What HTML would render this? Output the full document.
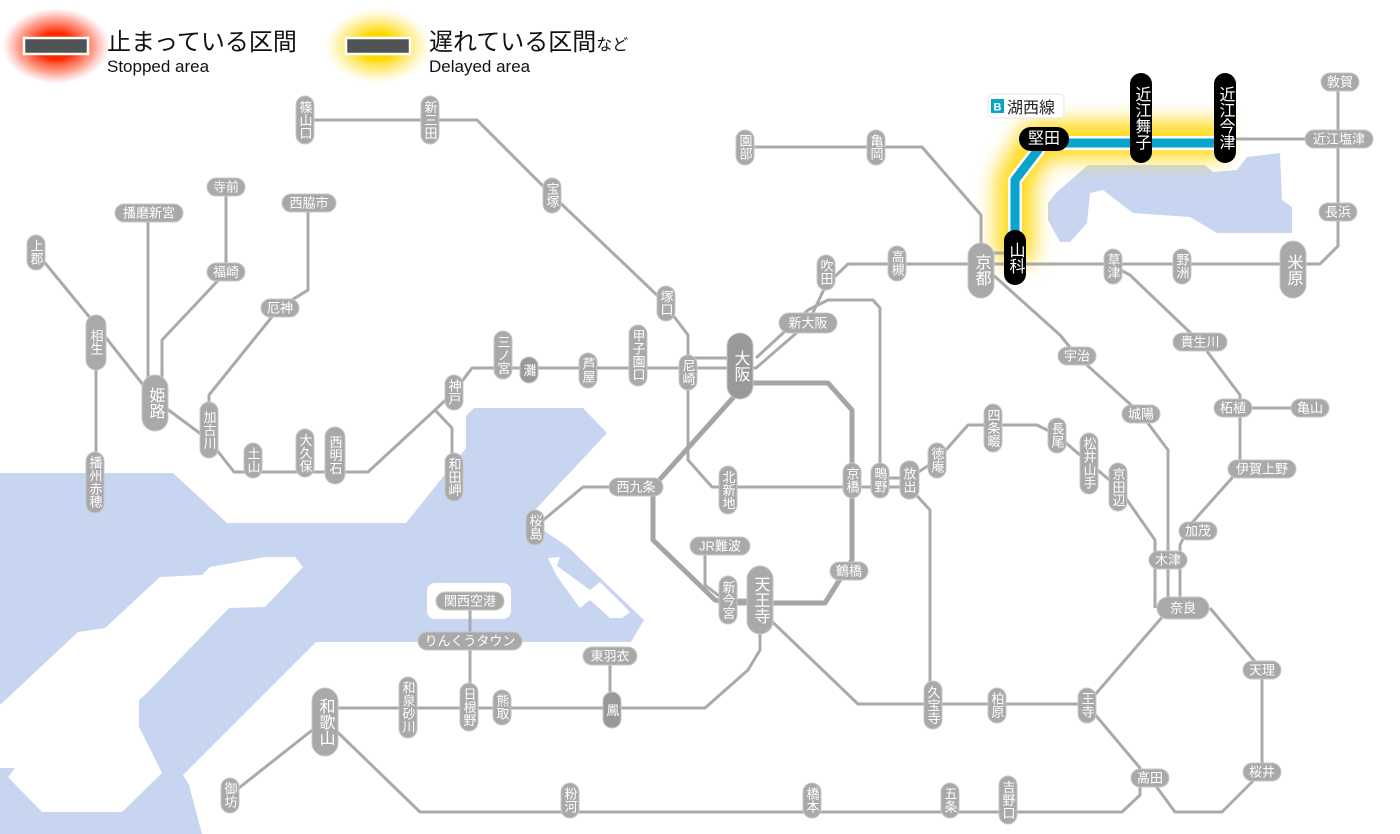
<!DOCTYPE html>
<html><head><meta charset="utf-8">
<style>
html,body{margin:0;padding:0;background:#fff;}
svg{display:block;font-family:"Liberation Sans","Noto Sans CJK JP",sans-serif;}
.ln{fill:none;stroke:#aaa;stroke-width:3;stroke-linejoin:round;}
.lk{fill:none;stroke:#a5a5a5;stroke-width:5;stroke-linejoin:round;}
.p{fill:#a9a9a9;stroke:#c8c8c8;stroke-width:1;}
.t{fill:#fff;font-size:13px;text-anchor:middle;dominant-baseline:central;}
.v{writing-mode:vertical-rl;text-orientation:upright;letter-spacing:0px;}
.b{font-size:16px;}
.k{fill:#000;}
.kt{fill:#fff;font-size:16px;text-anchor:middle;dominant-baseline:central;}
</style></head><body>
<svg width="1400" height="834" viewBox="0 0 1400 834" xmlns="http://www.w3.org/2000/svg">
<defs>
<radialGradient id="rg"><stop offset="0.35" stop-color="#ff2a00"/><stop offset="0.7" stop-color="#ff6040" stop-opacity="0.6"/><stop offset="1" stop-color="#ff8080" stop-opacity="0"/></radialGradient>
<radialGradient id="yg"><stop offset="0.35" stop-color="#ffd800"/><stop offset="0.7" stop-color="#ffe860" stop-opacity="0.6"/><stop offset="1" stop-color="#fff0a0" stop-opacity="0"/></radialGradient>
<filter id="bl" x="-30%" y="-30%" width="160%" height="160%"><feGaussianBlur stdDeviation="10"/></filter>
</defs>

<!-- legend -->
<ellipse cx="56" cy="46" rx="54" ry="38" fill="url(#rg)"/>
<rect x="24" y="38" width="64" height="16" fill="#4f5354" stroke="#fff" stroke-width="2.5"/>
<text x="107" y="50" font-size="24" fill="#111">止まっている区間</text>
<text x="107" y="72" font-size="17" fill="#111">Stopped area</text>
<ellipse cx="378" cy="46" rx="54" ry="38" fill="url(#yg)"/>
<rect x="346" y="38" width="64" height="16" fill="#4f5354" stroke="#fff" stroke-width="2.5"/>
<text x="429" y="50" font-size="24" fill="#111">遅れている区間<tspan font-size="16">など</tspan></text>
<text x="429" y="72" font-size="17" fill="#111">Delayed area</text>

<!-- water -->
<g fill="#c8d5f0">
<polygon points="0,473 173,473 227,523 406,523 466,448 466,416 474,408 583,408 607,433 535,510 543,530 568,547 644,620 631,642 316,642 183,775 189,785 202,834 0,834"/>
<polygon points="1088,165 1205,165 1213,172 1237,170 1247,157 1280,153 1282,200 1292,207 1292,233 1217,233 1190,217 1133,213 1103,190 1090,193 1087,223 1070,242 1060,242 1048,220 1048,203 1057,192"/>
</g>
<g fill="#fff">
<polygon points="265,557 295,557 303,567 265,607 229,608 147,693 139,700 139,727 162,773 122,812 42,812 8,777 15,768 0,768 0,705 78,632 105,628 160,577 202,575 210,567"/>
<rect x="427" y="583" width="84" height="36" rx="8"/>
<polygon points="548,558 560,557 557,566 590,590 600,582 630,612 622,618 610,618 590,600 580,608 556,575"/>
<polygon points="590,520 596,505 585,540 575,545"/>
</g>

<!-- yellow glow kosei -->
<path d="M1015,262 V180 L1038,140 H1225" fill="none" stroke="#ffd500" stroke-width="38" stroke-linejoin="round" filter="url(#bl)" opacity="0.9"/>

<!-- lines -->
<g class="ln">
<path d="M305,120 H477 L552,195 L660,298 L688,335 V460 L712,487 H909"/>
<path d="M454,392 L472,368 H740"/>
<path d="M688,358 H740"/>
<path d="M740,368 H756 L808,323 L826,285 L848,264 H1320 L1338,246 V82"/>
<path d="M756,358 L808,310 L828,300 H873 L880,308 V478"/>
<path d="M36,252 L96,325 L155,400 L209,440 L234,472 H368 L435,410 L454,392"/>
<path d="M435,410 L452,428 V477"/>
<path d="M96,342 V482"/>
<path d="M148,213 V400"/>
<path d="M226,187 V272 L162,340 V400"/>
<path d="M308,203 V290 L279,308 L209,395 V430"/>
<path d="M620,487 H583 L535,527"/>
<path d="M720,546 H705 V585 L728,603"/>
<path d="M760,603 V650 L748,670 L705,708 H325"/>
<path d="M470,601 V707"/>
<path d="M610,656 V710"/>
<path d="M760,610 L858,704 H1087 L1170,608"/>
<path d="M1087,705 L1140,768 V795 L1122,812 H420 L325,720"/>
<path d="M325,720 L230,795"/>
<path d="M1150,778 L1175,812 H1222 L1262,772 V670 L1210,608"/>
<path d="M909,487 L930,510 V705"/>
<path d="M909,478 L937,460 L968,425 H1037 L1057,435 L1089,463 L1118,487 L1155,540 V608"/>
<path d="M981,264 L1060,335 L1077,356 L1141,414 L1168,450 V608"/>
<path d="M1113,266 L1130,275 L1200,342 L1240,395 V469 L1190,525 L1180,545 V608"/>
<path d="M1233,408 H1310"/>
<path d="M981,245 V215 L922,147 H745"/>
<path d="M981,253 H1015"/>
<path d="M1223,139 H1339"/>
<path d="M880,487 H909"/>
<path d="M880,478 H909"/>
<path d="M715,600 H760"/>
</g>
<g class="lk">
<path d="M740,383 H828 L852,410 V560 L825,603 H728 L715,600 L653,540 V487 L740,390"/>
</g>

<!-- kosei blue line -->
<path d="M1015,262 V180 L1038,150 V143 H1225" fill="none" stroke="#fff" stroke-width="14" stroke-linejoin="round"/>
<path d="M1015,262 V180 L1038,150 V143 H1225" fill="none" stroke="#08a4cc" stroke-width="9" stroke-linejoin="round"/>

<!-- vertical small stations -->
<g>
<rect class="p" x="296" y="96" width="18" height="48" rx="9"/><text class="t v" x="305" y="120">篠山口</text>
<rect class="p" x="421" y="96" width="18" height="48" rx="9"/><text class="t v" x="430" y="120">新三田</text>
<rect class="p" x="543" y="178" width="18" height="35" rx="9"/><text class="t v" x="552" y="195">宝塚</text>
<rect class="p" x="657" y="286" width="18" height="35" rx="9"/><text class="t v" x="666" y="303">塚口</text>
<rect class="p" x="629" y="325" width="18" height="61" rx="9"/><text class="t v" x="638" y="355">甲子園口</text>
<rect class="p" x="579" y="353" width="18" height="35" rx="9"/><text class="t v" x="588" y="370">芦屋</text>
<rect class="p" x="520" y="357" width="18" height="26" rx="9" style="fill:#999"/><text class="t v" x="529" y="370">灘</text>
<rect class="p" x="494" y="331" width="18" height="48" rx="9"/><text class="t v" x="503" y="355">三ノ宮</text>
<rect class="p" x="679" y="355" width="18" height="35" rx="9"/><text class="t v" x="688" y="372">尼崎</text>
<rect class="p" x="445" y="375" width="18" height="35" rx="9"/><text class="t v" x="454" y="392">神戸</text>
<rect class="p" x="27" y="235" width="18" height="35" rx="9"/><text class="t v" x="36" y="252">上郡</text>
<rect class="p" x="86" y="315" width="20" height="55" rx="10"/><text class="t v" x="96" y="342" font-size="15">相生</text>
<rect class="p" x="200" y="402" width="18" height="56" rx="9"/><text class="t v" x="209" y="430">加古川</text>
<rect class="p" x="244" y="443" width="18" height="35" rx="9"/><text class="t v" x="253" y="460">土山</text>
<rect class="p" x="296" y="429" width="18" height="48" rx="9"/><text class="t v" x="305" y="453">大久保</text>
<rect class="p" x="325" y="427" width="20" height="57" rx="10"/><text class="t v" x="335" y="455" font-size="15">西明石</text>
<rect class="p" x="445" y="453" width="18" height="48" rx="9"/><text class="t v" x="454" y="477">和田岬</text>
<rect class="p" x="86" y="452" width="18" height="61" rx="9"/><text class="t v" x="95" y="482">播州赤穂</text>
<rect class="p" x="719" y="466" width="18" height="48" rx="9"/><text class="t v" x="728" y="490">北新地</text>
<rect class="p" x="843" y="463" width="18" height="35" rx="9"/><text class="t v" x="852" y="480">京橋</text>
<rect class="p" x="871" y="463" width="18" height="35" rx="9"/><text class="t v" x="880" y="480">鴫野</text>
<rect class="p" x="900" y="461" width="19" height="38" rx="9"/><text class="t v" x="909" y="480" font-size="14">放出</text>
<rect class="p" x="928" y="443" width="18" height="35" rx="9"/><text class="t v" x="937" y="460">徳庵</text>
<rect class="p" x="984" y="404" width="18" height="48" rx="9"/><text class="t v" x="993" y="428">四条畷</text>
<rect class="p" x="1048" y="418" width="18" height="35" rx="9"/><text class="t v" x="1057" y="435">長尾</text>
<rect class="p" x="1080" y="433" width="18" height="61" rx="9"/><text class="t v" x="1089" y="463">松井山手</text>
<rect class="p" x="1109" y="463" width="18" height="48" rx="9"/><text class="t v" x="1118" y="487">京田辺</text>
<rect class="p" x="526" y="510" width="18" height="35" rx="9"/><text class="t v" x="535" y="527">桜島</text>
<rect class="p" x="719" y="576" width="18" height="48" rx="9"/><text class="t v" x="728" y="600">新今宮</text>
<rect class="p" x="924" y="681" width="18" height="48" rx="9"/><text class="t v" x="933" y="705">久宝寺</text>
<rect class="p" x="988" y="688" width="18" height="35" rx="9"/><text class="t v" x="997" y="705">柏原</text>
<rect class="p" x="1078" y="688" width="18" height="35" rx="9"/><text class="t v" x="1087" y="705">王寺</text>
<rect class="p" x="399" y="677" width="18" height="61" rx="9"/><text class="t v" x="408" y="707">和泉砂川</text>
<rect class="p" x="460" y="683" width="18" height="48" rx="9"/><text class="t v" x="469" y="707">日根野</text>
<rect class="p" x="493" y="690" width="18" height="35" rx="9"/><text class="t v" x="502" y="707">熊取</text>
<rect class="p" x="603" y="692" width="18" height="36" rx="9" style="fill:#999"/><text class="t v" x="612" y="710">鳳</text>
<rect class="p" x="221" y="778" width="18" height="35" rx="9"/><text class="t v" x="230" y="795">御坊</text>
<rect class="p" x="561" y="783" width="18" height="35" rx="9"/><text class="t v" x="570" y="800">粉河</text>
<rect class="p" x="803" y="783" width="18" height="35" rx="9"/><text class="t v" x="812" y="800">橋本</text>
<rect class="p" x="941" y="783" width="18" height="35" rx="9"/><text class="t v" x="950" y="800">五条</text>
<rect class="p" x="999" y="776" width="18" height="48" rx="9"/><text class="t v" x="1008" y="800">吉野口</text>
<rect class="p" x="817" y="255" width="18" height="35" rx="9"/><text class="t v" x="826" y="272">吹田</text>
<rect class="p" x="888" y="246" width="18" height="35" rx="9"/><text class="t v" x="897" y="263">高槻</text>
<rect class="p" x="1104" y="249" width="18" height="35" rx="9"/><text class="t v" x="1113" y="266">草津</text>
<rect class="p" x="1173" y="249" width="18" height="35" rx="9"/><text class="t v" x="1182" y="266">野洲</text>
<rect class="p" x="867" y="130" width="18" height="35" rx="9"/><text class="t v" x="876" y="147">亀岡</text>
<rect class="p" x="736" y="130" width="18" height="35" rx="9"/><text class="t v" x="745" y="147">園部</text>
</g>

<!-- big vertical -->
<g>
<rect class="p" x="727" y="333" width="26" height="66" rx="13" style="fill:#999"/><text class="t v b" x="740" y="366" font-size="18">大阪</text>
<rect class="p" x="142" y="375" width="26" height="56" rx="13"/><text class="t v b" x="155" y="403">姫路</text>
<rect class="p" x="968" y="243" width="26" height="55" rx="13"/><text class="t v b" x="981" y="270">京都</text>
<rect class="p" x="1280" y="241" width="26" height="57" rx="13"/><text class="t v b" x="1293" y="270">米原</text>
<rect class="p" x="312" y="688" width="26" height="68" rx="13"/><text class="t v b" x="325" y="722">和歌山</text>
<rect class="p" x="747" y="566" width="26" height="68" rx="13"/><text class="t v b" x="760" y="600">天王寺</text>
</g>

<!-- horizontal stations -->
<g>
<rect class="p" x="207" y="178" width="38" height="18" rx="9"/><text class="t" x="226" y="187">寺前</text>
<rect class="p" x="115" y="204" width="68" height="18" rx="9"/><text class="t" x="149" y="213">播磨新宮</text>
<rect class="p" x="282" y="194" width="54" height="18" rx="9"/><text class="t" x="309" y="203">西脇市</text>
<rect class="p" x="207" y="263" width="38" height="18" rx="9"/><text class="t" x="226" y="272">福崎</text>
<rect class="p" x="261" y="299" width="38" height="18" rx="9"/><text class="t" x="280" y="308">厄神</text>
<rect class="p" x="609" y="478" width="54" height="18" rx="9"/><text class="t" x="636" y="487">西九条</text>
<rect class="p" x="690" y="537" width="60" height="18" rx="9"/><text class="t" x="720" y="546">JR難波</text>
<rect class="p" x="830" y="562" width="38" height="18" rx="9"/><text class="t" x="849" y="571">鶴橋</text>
<rect class="p" x="1122" y="405" width="38" height="18" rx="9"/><text class="t" x="1141" y="414">城陽</text>
<rect class="p" x="1214" y="399" width="38" height="18" rx="9"/><text class="t" x="1233" y="408">柘植</text>
<rect class="p" x="1291" y="399" width="38" height="18" rx="9"/><text class="t" x="1310" y="408">亀山</text>
<rect class="p" x="1228" y="460" width="68" height="18" rx="9"/><text class="t" x="1262" y="469">伊賀上野</text>
<rect class="p" x="1179" y="522" width="38" height="18" rx="9"/><text class="t" x="1198" y="531">加茂</text>
<rect class="p" x="1149" y="551" width="38" height="18" rx="9"/><text class="t" x="1168" y="560">木津</text>
<rect class="p" x="1243" y="661" width="38" height="18" rx="9"/><text class="t" x="1262" y="670">天理</text>
<rect class="p" x="1243" y="763" width="38" height="18" rx="9"/><text class="t" x="1262" y="772">桜井</text>
<rect class="p" x="1131" y="769" width="38" height="18" rx="9"/><text class="t" x="1150" y="778">高田</text>
<rect class="p" x="436" y="592" width="68" height="18" rx="9"/><text class="t" x="470" y="601">関西空港</text>
<rect class="p" x="418" y="632" width="104" height="18" rx="9"/><text class="t" x="470" y="641">りんくうタウン</text>
<rect class="p" x="583" y="647" width="54" height="18" rx="9"/><text class="t" x="610" y="656">東羽衣</text>
<rect class="p" x="1321" y="73" width="38" height="18" rx="9"/><text class="t" x="1340" y="82">敦賀</text>
<rect class="p" x="1305" y="130" width="68" height="18" rx="9"/><text class="t" x="1339" y="139">近江塩津</text>
<rect class="p" x="1319" y="203" width="38" height="18" rx="9"/><text class="t" x="1338" y="212">長浜</text>
<rect class="p" x="1058" y="347" width="38" height="18" rx="9"/><text class="t" x="1077" y="356">宇治</text>
<rect class="p" x="1173" y="333" width="54" height="18" rx="9"/><text class="t" x="1200" y="342">貴生川</text>
<rect class="p" x="779" y="313" width="58" height="20" rx="10"/><text class="t" x="808" y="323" font-size="15">新大阪</text>
<rect class="p" x="1157" y="597" width="52" height="22" rx="11"/><text class="t" x="1183" y="608" font-size="17">奈良</text>
</g>

<!-- kosei black stations -->
<rect class="k" x="1019" y="127" width="50" height="24" rx="12"/><text class="kt" x="1044" y="139">堅田</text>
<rect class="k" x="1130" y="73" width="22" height="90" rx="11"/><text class="kt v" x="1141" y="118">近江舞子</text>
<rect class="k" x="1214" y="73" width="22" height="90" rx="11"/><text class="kt v" x="1225" y="118">近江今津</text>
<rect class="k" x="1004" y="230" width="22" height="55" rx="11"/><text class="kt v" x="1015" y="258">山科</text>

<!-- line label -->
<rect x="988" y="94" width="76" height="24" rx="4" fill="#fff" stroke="#e6e6e6"/>
<rect x="991" y="99" width="13" height="14" fill="#08a4cc"/>
<text x="997.5" y="110.5" font-size="11" fill="#fff" text-anchor="middle" font-weight="bold">B</text>
<text x="1007" y="113" font-size="16" fill="#222">湖西線</text>
</svg>
</body></html>
